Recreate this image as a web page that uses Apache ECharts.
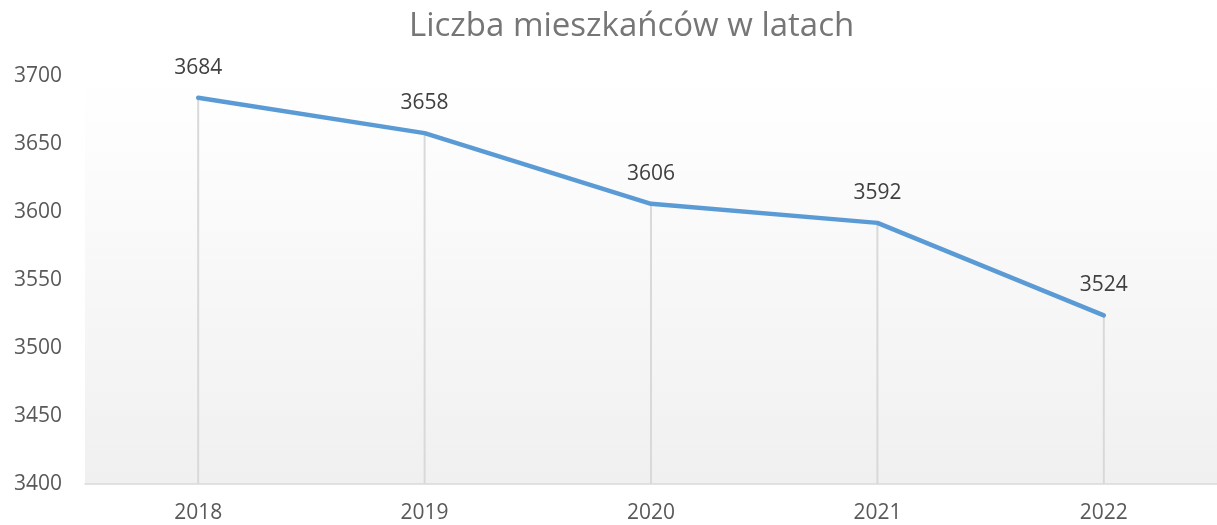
<!DOCTYPE html>
<html>
<head>
<meta charset="utf-8">
<script src="https://cdn.jsdelivr.net/npm/echarts@6/dist/echarts.min.js"></script>
<style>
html,body{margin:0;padding:0;background:#fff;}
#c{width:1217px;height:525px;}
</style>
</head>
<body>
<div id="c"></div>
<script>
const years = ['2018', '2019', '2020', '2021', '2022'];
const residents = [3684, 3658, 3606, 3592, 3524];
const yTicks = { min: 3400, max: 3700, step: 50 };
const chartTitle = 'Liczba mieszkańców w latach';

const font = '"Open Sans", "Noto Sans", "DejaVu Sans", sans-serif';
const chart = echarts.init(document.getElementById('c'));
chart.setOption({
  animation: false,
  backgroundColor: '#ffffff',
  title: {
    text: chartTitle,
    left: 404,
    top: 5,
    textStyle: { fontFamily: font, fontSize: 33, fontWeight: 'normal', color: '#767676' }
  },
  grid: {
    left: 85, top: 76, width: 1133, bottom: 41,
    show: true, borderWidth: 0,
    backgroundColor: new echarts.graphic.LinearGradient(0, 0, 0, 1, [
      { offset: 0, color: '#ffffff' },
      { offset: 1, color: '#f0f0f0' }
    ])
  },
  xAxis: {
    type: 'category',
    data: years,
    boundaryGap: true,
    axisLine: { show: true, lineStyle: { color: '#d9d9d9', width: 1.5 } },
    axisTick: { show: false },
    axisLabel: { fontFamily: font, fontSize: 21, color: '#595959', margin: 19 },
    splitLine: { show: false }
  },
  yAxis: {
    type: 'value',
    min: yTicks.min, max: yTicks.max, interval: yTicks.step,
    axisLine: { show: false },
    axisTick: { show: false },
    splitLine: { show: false },
    axisLabel: { fontFamily: font, fontSize: 21, color: '#595959', margin: 23, formatter: v => String(v) }
  },
  series: [
    {
      type: 'bar',
      data: residents,
      barWidth: 2,
      itemStyle: { color: '#d9d9d9' },
      silent: true,
      z: 1
    },
    {
      type: 'line',
      data: residents,
      showSymbol: true,
      symbol: 'circle',
      symbolSize: 1,
      itemStyle: { color: '#5b9bd5' },
      lineStyle: { color: '#5b9bd5', width: 4.5, cap: 'round', join: 'round' },
      label: {
        show: true, position: 'top', distance: 19,
        fontFamily: font, fontSize: 21, color: '#404040'
      },
      z: 3
    }
  ]
});
</script>
</body>
</html>
